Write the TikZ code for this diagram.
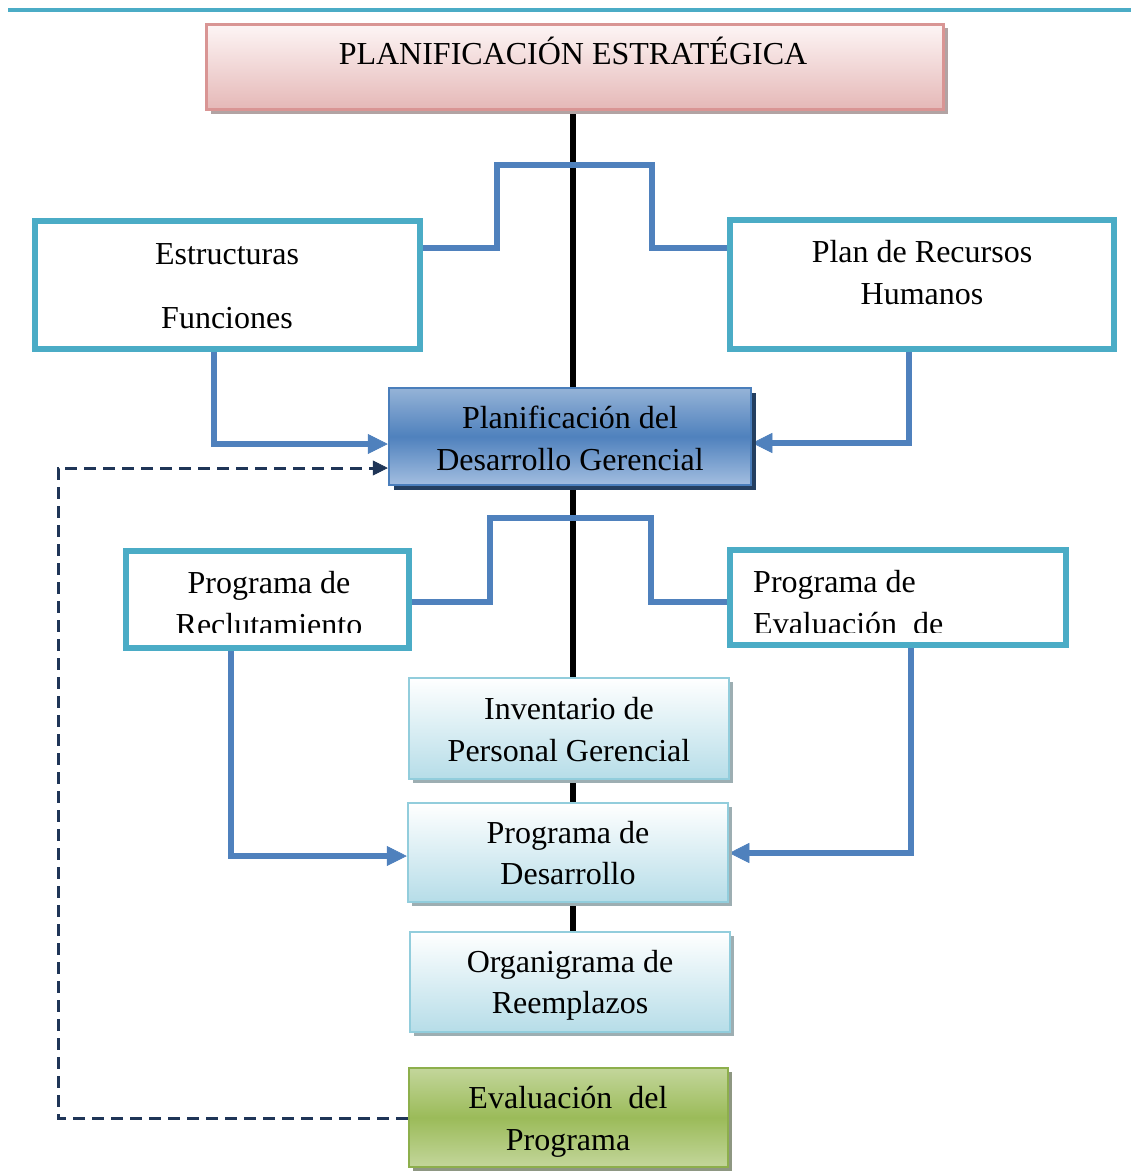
\documentclass[tikz,border=0pt]{standalone}
\usepackage{fontspec}
\setmainfont{Liberation Serif}
\usetikzlibrary{arrows.meta,shadows}
\pgfdeclarelayer{background}
\pgfsetlayers{background,main}
\definecolor{cTeal}{HTML}{4BACC6}
\definecolor{cLine}{HTML}{4F81BD}
\definecolor{cNavy}{HTML}{1F3557}
\definecolor{cPinkB}{HTML}{D99594}
\definecolor{cPinkT}{HTML}{FDF5F5}
\definecolor{cPinkF}{HTML}{E5B8B7}
\definecolor{cPinkS}{HTML}{B2A3A3}
\definecolor{cBlueT}{HTML}{95B3D7}
\definecolor{cBlueM}{HTML}{4F81BD}
\definecolor{cBlueB}{HTML}{A3BEE0}
\definecolor{cBlueD}{HTML}{4A7EBB}
\definecolor{cBlueS}{HTML}{243F60}
\definecolor{cLtB}{HTML}{92CDDC}
\definecolor{cLtF}{HTML}{B6DDE8}
\definecolor{cLtS}{HTML}{9DAEB2}
\definecolor{cGrT}{HTML}{C3D69B}
\definecolor{cGrM}{HTML}{9BBB59}
\definecolor{cGrD}{HTML}{8DAF4C}
\definecolor{cGrS}{HTML}{8E9782}
\tikzset{
  lbl/.style={inner sep=0pt, anchor=base, text=black},
  frame/.style={draw=cTeal, line width=6pt, fill=white, inner sep=0pt},
  conn/.style={draw=cLine, line width=6pt},
  arr/.style={conn, -{Triangle[length=20pt,width=20pt,line width=0.5pt]}},
  dsh/.style={draw=cNavy, line width=3pt, dash pattern=on 12pt off 7pt,
    -{Triangle[length=15pt,width=15pt,line width=0.5pt]}},
  topbox/.style={draw=cPinkB, line width=3pt, top color=cPinkT, bottom color=cPinkF,
    inner sep=0pt, drop shadow={shadow xshift=4pt, shadow yshift=-4pt, fill=cPinkS, opacity=1}},
  bluebox/.style={draw=cBlueD, line width=2.5pt, top color=cBlueT, bottom color=cBlueB,
    middle color=cBlueM, inner sep=0pt,
    drop shadow={shadow xshift=5pt, shadow yshift=-5pt, fill=cBlueS, opacity=1}},
  ltbox/.style={draw=cLtB, line width=2.5pt, top color=white, bottom color=cLtF,
    inner sep=0pt, drop shadow={shadow xshift=4pt, shadow yshift=-4pt, fill=cLtS, opacity=1}},
  grbox/.style={draw=cGrD, line width=2.5pt, top color=cGrT, bottom color=cGrT,
    middle color=cGrM, inner sep=0pt,
    drop shadow={shadow xshift=4pt, shadow yshift=-4pt, fill=cGrS, opacity=1}},
}
\begin{document}
\begin{tikzpicture}[x=1pt,y=-1pt,font=\fontsize{32}{42}\selectfont]
\useasboundingbox (0,0) rectangle (1131,1172);
% top rule
\coordinate (ruleL) at (8,10);
\coordinate (ruleR) at (1131,10);
\draw[cTeal, line width=3.5pt] (ruleL) -- (ruleR);
% boxes
\node[topbox, minimum width=737pt, minimum height=85pt] (top) at (575,67) {};
\node[frame, minimum width=385pt, minimum height=128pt] (est) at (227.5,285) {};
\node[frame, minimum width=384pt, minimum height=129pt] (plan) at (922,284.5) {};
\node[bluebox, minimum width=362pt, minimum height=97pt] (blue) at (570,436.5) {};
\node[frame, minimum width=283pt, minimum height=97pt] (rec) at (267.5,599.5) {};
\node[frame, minimum width=336pt, minimum height=95pt] (evalp) at (898,597.5) {};
\node[ltbox, minimum width=320pt, minimum height=101pt] (inv) at (569,728.5) {};
\node[ltbox, minimum width=320pt, minimum height=99pt] (des) at (568,852.5) {};
\node[ltbox, minimum width=320pt, minimum height=100pt] (org) at (570,982) {};
\node[grbox, minimum width=319pt, minimum height=99pt] (eval) at (568.5,1117.5) {};
% texts
\node[lbl] (tTop) at (573,65) {PLANIFICACIÓN ESTRATÉGICA};
\node[lbl] (tEst1) at (227,264) {Estructuras};
\node[lbl] (tEst2) at (227,328) {Funciones};
\node[lbl] (tPlan1) at (922,262) {Plan de Recursos};
\node[lbl] (tPlan2) at (922,304) {Humanos};
\node[lbl] (tBlue1) at (570,428) {Planificación del};
\node[lbl] (tBlue2) at (570,470) {Desarrollo Gerencial};
\begin{scope}
  \clip (129,554) rectangle (406,632);
  \node[lbl] (tRec1) at (269,593) {Programa de};
  \node[lbl] (tRec2) at (269,635) {Reclutamiento};
\end{scope}
\begin{scope}
  \clip (733,553) rectangle (1063,632);
  \node[lbl, anchor=base west] (tEv1) at (753,592) {Programa de};
  \node[lbl, anchor=base west] (tEv2) at (753,634) {Evaluación~ de};
\end{scope}
\node[lbl] (tInv1) at (569,719) {Inventario de};
\node[lbl] (tInv2) at (569,761) {Personal Gerencial};
\node[lbl] (tDes1) at (568,843) {Programa de};
\node[lbl] (tDes2) at (568,884) {Desarrollo};
\node[lbl] (tOrg1) at (570,972) {Organigrama de};
\node[lbl] (tOrg2) at (570,1013) {Reemplazos};
\node[lbl] (tEva1) at (568,1108) {Evaluación~ del};
\node[lbl] (tEva2) at (568,1150) {Programa};
% connectors
\begin{pgfonlayer}{background}
  \draw[black, line width=6.5pt] (top.south -| 573,0) -- (org.south -| 573,0);
  \draw[conn] (est.east |- 0,248) -| (497,165) -| (652,248) -- (plan.west |- 0,248);
  \draw[arr] (est.south -| 214,0) |- (blue.west |- 0,444);
  \draw[arr] (plan.south -| 909,0) |- (blue.east |- 0,443);
  \draw[conn] (rec.east |- 0,602) -| (490,518) -| (651,602) -- (evalp.west |- 0,602);
  \draw[arr] (rec.south -| 231,0) |- (des.west |- 0,856);
  \draw[arr] (evalp.south -| 911,0) |- (des.east |- 0,853);
  \draw[dsh] (eval.west |- 0,1118) -| (58,468) -- (blue.west |- 0,468);
\end{pgfonlayer}
\end{tikzpicture}
\end{document}
